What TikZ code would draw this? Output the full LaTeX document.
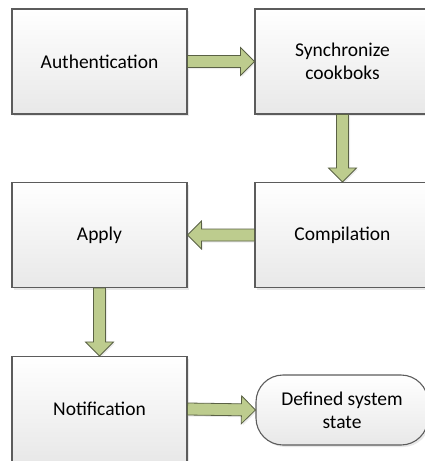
\documentclass[tikz,border=0pt]{standalone}
\usepackage{fontspec}
\setmainfont{Carlito}
\usetikzlibrary{calc,shadows}

\definecolor{boxline}{HTML}{5C5C5C}
\definecolor{arrowfill}{HTML}{BDCC8E}
\definecolor{arrowline}{HTML}{5A6145}

\tikzset{
  stepbox/.style={draw=boxline, line width=1.1pt, top color=white, bottom color=black!9,
    minimum width=175pt, minimum height=105pt, align=center,
    drop shadow={shadow xshift=2pt, shadow yshift=-2pt, opacity=0.18}},
  endstate/.style={stepbox, minimum width=172pt, minimum height=70pt, rounded corners=27pt},
  bigarrow/.style={fill=arrowfill, draw=arrowline, line width=0.8pt, line join=miter,
    drop shadow={shadow xshift=1.5pt, shadow yshift=-1.5pt, opacity=0.15}}
}

% fat arrow from #1 to #2 (shaft 12pt, head 28pt wide, 14pt long)
\newcommand{\blockarrow}[2]{%
  \draw[bigarrow] ($(#1)!6pt!90:(#2)$)
    -- ($(#2)!14pt!(#1)!6pt!90:(#2)$)
    -- ($(#2)!14pt!(#1)!14pt!90:(#2)$)
    -- (#2)
    -- ($(#2)!14pt!(#1)!14pt!-90:(#2)$)
    -- ($(#2)!14pt!(#1)!6pt!-90:(#2)$)
    -- ($(#1)!6pt!-90:(#2)$) -- cycle;}

\begin{document}
\begin{tikzpicture}[x=1pt, y=1pt, font=\fontsize{19.5}{23}\selectfont]
  \useasboundingbox (0,0) rectangle (424,-461);

  \node[stepbox] (auth) at (99.5,-61.5) {Authentication};
  \node[stepbox] (sync) at (342.5,-61.5) {Synchronize\\cookboks};
  \node[stepbox] (comp) at (342.5,-235) {Compilation};
  \node[stepbox] (apply) at (99.5,-235) {Apply};
  \node[stepbox] (notif) at (99.5,-409) {Notification};
  \node[endstate] (state) at (342,-410) {Defined system\\state};

  \blockarrow{auth.east}{sync.west}
  \blockarrow{sync.south}{comp.north}
  \blockarrow{comp.west}{apply.east}
  \blockarrow{apply.south}{notif.north}
  \blockarrow{notif.east}{state.west}
\end{tikzpicture}
\end{document}
